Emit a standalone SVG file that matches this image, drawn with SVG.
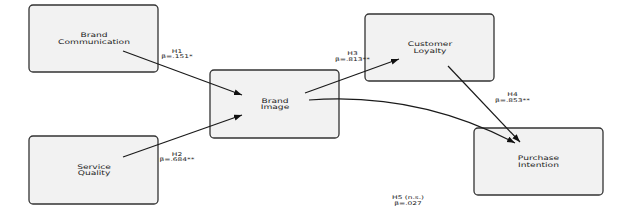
<svg xmlns="http://www.w3.org/2000/svg" width="622" height="210" viewBox="0 0 622 210">
<style>
.box{fill:#f2f2f2;stroke:#333;stroke-width:1.3}
.nt{font-family:"DejaVu Sans",sans-serif;font-size:6.3px;fill:#222;text-anchor:middle}
.et{font-family:"DejaVu Sans",sans-serif;font-size:5px;fill:#222;text-anchor:middle}
.edge{fill:none;stroke:#1a1a1a;stroke-width:1.2}
</style>
<defs>
<marker id="ah" markerUnits="userSpaceOnUse" markerWidth="10" markerHeight="8" refX="8" refY="3" orient="auto">
<path d="M0,0 L8,3 L0,6 z" fill="#111"/>
</marker>
</defs>
<rect width="622" height="210" fill="#fff"/>
<g id="bc">
<rect class="box" x="29" y="5" width="129" height="67" rx="4"/>
<text class="nt" transform="translate(94 0) scale(1.45 1)"><tspan x="0" y="37.5">Brand</tspan><tspan x="0" y="44">Communication</tspan></text>
</g>
<g id="sq">
<rect class="box" x="29" y="136" width="129" height="68" rx="4"/>
<text class="nt" transform="translate(94 0) scale(1.45 1)"><tspan x="0" y="169">Service</tspan><tspan x="0" y="175.5">Quality</tspan></text>
</g>
<g id="bi">
<rect class="box" x="210" y="70" width="129" height="68" rx="4"/>
<text class="nt" transform="translate(275 0) scale(1.45 1)"><tspan x="0" y="103">Brand</tspan><tspan x="0" y="109.5">Image</tspan></text>
</g>
<g id="cl">
<rect class="box" x="365" y="14" width="129" height="67" rx="4"/>
<text class="nt" transform="translate(430 0) scale(1.45 1)"><tspan x="0" y="46.5">Customer</tspan><tspan x="0" y="53">Loyalty</tspan></text>
</g>
<g id="pi">
<rect class="box" x="474" y="128" width="129" height="67" rx="4"/>
<text class="nt" transform="translate(538.5 0) scale(1.45 1)"><tspan x="0" y="160.5">Purchase</tspan><tspan x="0" y="167">Intention</tspan></text>
</g>
<g id="edges">
<line class="edge" x1="123" y1="51" x2="242" y2="95" marker-end="url(#ah)"/>
<line class="edge" x1="123" y1="157" x2="242" y2="115" marker-end="url(#ah)"/>
<line class="edge" x1="305" y1="93" x2="399" y2="59" marker-end="url(#ah)"/>
<line class="edge" x1="448" y1="66" x2="520" y2="142" marker-end="url(#ah)"/>
<path class="edge" d="M309,100 Q418,92 515,143" marker-end="url(#ah)"/>
</g>
<g id="labels">
<text class="et" transform="translate(177 0) scale(1.5 1)"><tspan x="0" y="53">H1</tspan><tspan x="0" y="58.5">β=.151*</tspan></text>
<text class="et" transform="translate(177 0) scale(1.5 1)"><tspan x="0" y="156">H2</tspan><tspan x="0" y="161.5">β=.684**</tspan></text>
<text class="et" transform="translate(352.5 0) scale(1.5 1)"><tspan x="0" y="55.5">H3</tspan><tspan x="0" y="61">β=.813**</tspan></text>
<text class="et" transform="translate(512.5 0) scale(1.5 1)"><tspan x="0" y="96.5">H4</tspan><tspan x="0" y="102">β=.853**</tspan></text>
<text class="et" transform="translate(408 0) scale(1.5 1)"><tspan x="0" y="199.5">H5 (n.s.)</tspan><tspan x="0" y="205">β=.027</tspan></text>
</g>
</svg>
